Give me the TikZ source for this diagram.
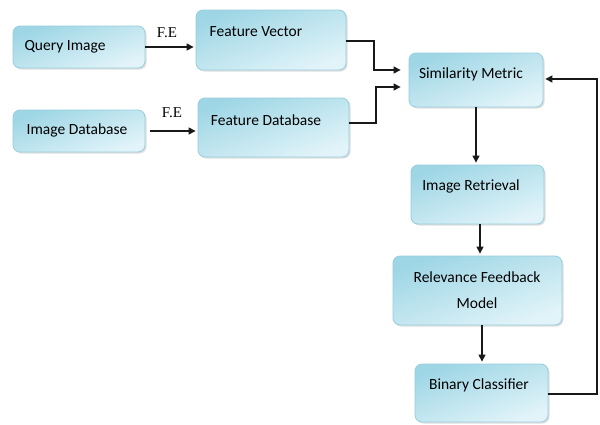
\documentclass[tikz,border=0pt]{standalone}
\usepackage{fontspec}
\setmainfont{Carlito}
\newfontfamily\serifface{Liberation Serif}
\usetikzlibrary{shadows,arrows.meta}
\definecolor{boxtop}{RGB}{158,214,229}
\definecolor{boxbot}{RGB}{226,244,249}
\definecolor{boxline}{RGB}{150,206,221}
\definecolor{wire}{RGB}{25,25,25}
\tikzset{
  box/.style={rounded corners=7pt, draw=boxline, line width=0.8pt,
    top color=boxtop, bottom color=boxbot, shading angle=20,
    drop shadow={opacity=0.25, shadow xshift=1.5pt, shadow yshift=-1.5pt},
    inner sep=0pt},
  lbl/.style={font=\fontsize{15.5}{18}\selectfont, text=black, inner sep=0pt},
  fe/.style={font=\serifface\fontsize{15}{17}\selectfont, inner sep=0pt},
  arr/.style={draw=wire, line width=1.2pt, -{Triangle[length=7pt,width=7pt]}},
}
\begin{document}
\begin{tikzpicture}[x=1pt,y=-1pt]
\useasboundingbox (0,0) rectangle (600,424);
\fill[white] (0,0) rectangle (600,424);

% boxes
\node[box, minimum width=132pt, minimum height=42pt] (qi)  at (79,47) {};
\node[box, minimum width=150pt, minimum height=60pt] (fv)  at (271,40) {};
\node[box, minimum width=132pt, minimum height=42pt] (idb) at (79,131) {};
\node[box, minimum width=151pt, minimum height=59pt] (fdb) at (273.5,127.5) {};
\node[box, minimum width=134pt, minimum height=54pt] (sm)  at (476,80) {};
\node[box, minimum width=133pt, minimum height=59pt] (ir)  at (477.5,194.5) {};
\node[box, minimum width=169pt, minimum height=69pt] (rfm) at (477.5,290.5) {};
\node[box, minimum width=133pt, minimum height=58pt] (bc)  at (481.5,393) {};

% box texts
\node[lbl] (tqi)  at (65,47)   {Query Image};
\node[lbl] (tfv)  at (256,32)  {Feature Vector};
\node[lbl] (tidb) at (77,130)  {Image Database};
\node[lbl] (tfdb) at (266,120) {Feature Database};
\node[lbl] (tsm)  at (471,74)  {Similarity Metric};
\node[lbl] (tir)  at (471,186) {Image Retrieval};
\node[lbl] (trf1) at (477,277) {Relevance Feedback};
\node[lbl] (trf2) at (477,303) {Model};
\node[lbl] (tbc)  at (479,385) {Binary Classifier};

% feature extraction arrows
\draw[arr, shorten >=2pt] (qi.east) -- (fv.west |- qi.east);
\node[fe] (fe1) at (167,33) {F.E};
\draw[arr, shorten <=5pt, shorten >=2pt] (idb.east) -- (fdb.west |- idb.east);
\node[fe] (fe2) at (172,113) {F.E};

% into the similarity metric
\coordinate (j1) at (374,41);
\coordinate (j2) at (376,123);
\draw[arr, shorten >=8pt] (fv.east |- j1) -- (j1) |- ([yshift=10pt]sm.west);
\draw[arr, shorten >=8pt] (fdb.east |- j2) -- (j2) |- ([yshift=-7pt]sm.west);

% main chain
\draw[arr, shorten >=2pt] (sm.south) -- (sm.south |- ir.north);
\draw[arr, shorten >=2pt] ([xshift=2.5pt]ir.south) -- ([xshift=2.5pt]ir.south |- rfm.north);
\draw[arr, shorten >=2pt] ([xshift=4.5pt]rfm.south) -- ([xshift=4.5pt]rfm.south |- bc.north);

% feedback loop
\coordinate (fb) at (597,79);
\draw[arr, shorten >=2pt] ([yshift=-1pt]bc.east) -| (fb) -- (sm.east |- fb);
\end{tikzpicture}
\end{document}
